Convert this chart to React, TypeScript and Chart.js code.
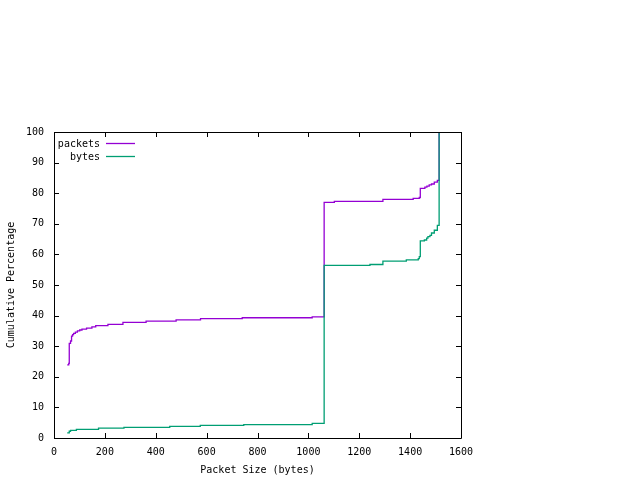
import React, { useEffect, useRef } from "react";
import { Chart, registerables } from "chart.js";

Chart.register(...registerables);

// Packet size CDF (bytes on x, cumulative % on y)
const packetSizes = [52, 58, 60, 65, 69, 73, 77, 84, 92, 101, 110, 128, 149, 164, 212, 271, 362, 480, 576, 740, 1015, 1062, 1102, 1293, 1412, 1436, 1440, 1458, 1466, 1475, 1484, 1495, 1507, 1514];
const packetPct = [23.9, 24.4, 30.9, 31.7, 33.3, 33.8, 34.2, 34.6, 35.0, 35.3, 35.6, 35.9, 36.3, 36.7, 37.1, 37.8, 38.2, 38.6, 39.0, 39.3, 39.6, 77.0, 77.3, 78.0, 78.3, 78.6, 81.6, 82.0, 82.3, 82.7, 83.0, 83.6, 84.2, 100];

const byteSizes = [52, 60, 65, 88, 175, 275, 455, 575, 746, 1015, 1062, 1242, 1293, 1385, 1432, 1436, 1440, 1456, 1465, 1470, 1478, 1484, 1495, 1507, 1514];
const bytePct = [1.7, 2.2, 2.5, 2.8, 3.2, 3.5, 3.8, 4.1, 4.4, 4.8, 56.4, 56.7, 57.8, 58.2, 58.6, 59.3, 64.4, 64.7, 65.3, 65.8, 66.2, 67.0, 67.9, 69.5, 100];

const seriesLabels = ["packets", "bytes"];
const seriesColors = ["#9400d3", "#009e73"];

const xTitle = "Packet Size (bytes)";
const yTitle = "Cumulative Percentage";

const FONT = "DejaVu Sans Mono";

const frameAndLegend = {
  id: "frameAndLegend",
  afterDatasetsDraw(chart: any) {
    const { ctx, chartArea } = chart;
    const { left, right, top, bottom } = chartArea;
    const xs = chart.scales.x;
    const ys = chart.scales.y;
    const tl = 5;
    ctx.save();
    ctx.strokeStyle = "#000";
    ctx.lineWidth = 1;
    ctx.beginPath();
    ctx.rect(Math.round(left) + 0.5, Math.round(top) + 0.5, Math.round(right - left), Math.round(bottom - top));
    ctx.stroke();
    ctx.beginPath();
    xs.ticks.forEach((t: any) => {
      const px = Math.round(xs.getPixelForValue(t.value)) + 0.5;
      ctx.moveTo(px, bottom);
      ctx.lineTo(px, bottom - tl);
      ctx.moveTo(px, top);
      ctx.lineTo(px, top + tl);
    });
    ys.ticks.forEach((t: any) => {
      const py = Math.round(ys.getPixelForValue(t.value)) + 0.5;
      ctx.moveTo(left, py);
      ctx.lineTo(left + tl, py);
      ctx.moveTo(right, py);
      ctx.lineTo(right - tl, py);
    });
    ctx.stroke();

    // legend (gnuplot style, top-left inside)
    ctx.font = `10px "${FONT}"`;
    ctx.textAlign = "right";
    ctx.textBaseline = "middle";
    chart.data.datasets.forEach((ds: any, i: number) => {
      const y = top + 12 + i * 13;
      ctx.fillStyle = "#000";
      ctx.fillText(ds.label, left + 46, y);
      ctx.strokeStyle = ds.borderColor;
      ctx.lineWidth = 1.3;
      ctx.beginPath();
      ctx.moveTo(left + 52, Math.round(y) - 0.5);
      ctx.lineTo(left + 81, Math.round(y) - 0.5);
      ctx.stroke();
    });
    ctx.restore();
  },
};

export default function App() {
  const ref = useRef<HTMLCanvasElement>(null);
  useEffect(() => {
    if (!ref.current) return;
    const datasets = [
      { label: seriesLabels[0], data: packetSizes.map((x, i) => ({ x, y: packetPct[i] })), borderColor: seriesColors[0], order: 1 },
      { label: seriesLabels[1], data: byteSizes.map((x, i) => ({ x, y: bytePct[i] })), borderColor: seriesColors[1], order: 0 },
    ].map((d) => ({ ...d, stepped: "before" as const, pointRadius: 0, borderWidth: 1.3, fill: false, backgroundColor: d.borderColor }));
    const chart = new Chart(ref.current, {
      type: "line",
      data: { datasets },
      options: {
        animation: false,
        responsive: false,
        layout: { padding: { top: 132, right: 179, bottom: 0, left: 0 } },
        plugins: { legend: { display: false }, tooltip: { enabled: false } },
        scales: {
          x: {
            type: "linear",
            min: 0,
            max: 1600,
            ticks: { stepSize: 200, color: "#000", font: { family: FONT, size: 10 }, padding: 8, maxRotation: 0, callback: (v: any) => String(v) },
            grid: { display: false, drawTicks: false },
            border: { display: false },
            title: { display: true, text: xTitle, color: "#000", font: { family: FONT, size: 10 }, padding: { top: 0, bottom: 4 } },
            afterFit: (s: any) => { s.height = 42; },
          },
          y: {
            type: "linear",
            min: 0,
            max: 100,
            ticks: { stepSize: 10, color: "#000", font: { family: FONT, size: 10 }, padding: 10, callback: (v: any) => String(v) },
            grid: { display: false, drawTicks: false },
            border: { display: false },
            title: { display: true, text: yTitle, color: "#000", font: { family: FONT, size: 10 }, padding: { top: 5, bottom: 0 } },
            afterFit: (s: any) => { s.width = 54; },
          },
        },
      },
      plugins: [frameAndLegend],
    });
    return () => chart.destroy();
  }, []);
  return (
    <div style={{ position: "absolute", left: 0, top: 0, width: 640, height: 480, background: "#fff" }}>
      <canvas ref={ref} width={640} height={480} style={{ width: 640, height: 480 }} />
    </div>
  );
}
